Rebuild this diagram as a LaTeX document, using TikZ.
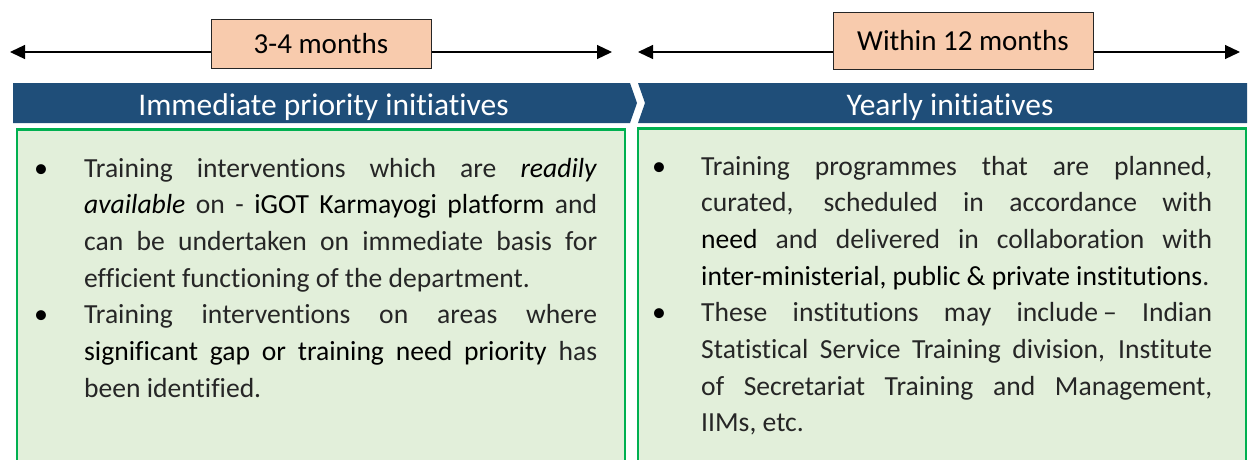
\documentclass[tikz,border=0pt]{standalone}
\usepackage{fontspec}
\setmainfont{Carlito}[Ligatures=NoCommon]
\usetikzlibrary{arrows.meta}
\definecolor{barblue}{HTML}{1F4E79}
\definecolor{boxgreen}{HTML}{00B050}
\definecolor{fillgreen}{HTML}{E2EFDA}
\definecolor{peach}{HTML}{F8CBAD}
\definecolor{textgray}{HTML}{262626}
\newcommand{\dk}[1]{{\color{black}#1}}
\newcommand{\nohyph}{\hyphenpenalty=10000\relax\exhyphenpenalty=10000\relax}
\begin{document}
\begin{tikzpicture}[x=1pt,y=-1pt,
  timebox/.style={draw=black!85, fill=peach, line width=1pt, inner sep=0pt,
    font=\fontsize{29}{34}\selectfont, text=black},
  timearrow/.style={line width=1.2pt, -{Triangle[length=15pt,width=14pt]}},
  bar/.style={fill=barblue},
  heading/.style={text=white, inner sep=0pt, anchor=base, font=\fontsize{31.5}{36}\selectfont},
  panel/.style={draw=boxgreen, fill=fillgreen, line width=2.3pt},
  item/.style={anchor=base west, inner sep=0pt, text=textgray, align=justify,
    font=\fontsize{27.6}{36.7}\selectfont\nohyph},
  bul/.style={anchor=base, inner sep=0pt, text=black, font=\fontsize{28}{36.7}\selectfont}
]
\clip (0,0) rectangle (1250,459);
\fill[white] (0,0) rectangle (1250,459);

% time boxes and arrows
\node[timebox, minimum width=220pt, minimum height=49pt] (lbox) at (321,43.5) {3-4 months};
\node[timebox, minimum width=260pt, minimum height=57pt] (rbox) at (963,40.5) {Within 12 months};
\coordinate (la1) at (10,52);
\coordinate (la2) at (612,52);
\coordinate (ra1) at (638,52);
\coordinate (ra2) at (1240,52);
\draw[timearrow] (lbox.west |- la1) -- (la1);
\draw[timearrow] (lbox.east |- la2) -- (la2);
\draw[timearrow] (rbox.west |- ra1) -- (ra1);
\draw[timearrow] (rbox.east |- ra2) -- (ra2);

% heading bars
\fill[bar] (13,83) -- (630,83) -- (637,103) -- (630,123) -- (13,123) -- cycle;
\fill[bar] (638,83) -- (1247,83) -- (1247,123) -- (638,123) -- (645,103) -- cycle;
\node[heading] (lhead) at (323.5,115) {Immediate priority initiatives};
\node[heading] (rhead) at (950,115) {Yearly initiatives};

% panels
\draw[panel] (17,129.5) rectangle (625,480);
\draw[panel] (638,128.5) rectangle (1246,480);

% left column
\node[bul] (lb1) at (41,177) {\textbullet};
\node[item, text width=513pt] (l1) at (84,177) {Training interventions which are \dk{\textit{readily}}\linebreak
\dk{\textit{available}} on - \dk{iGOT Karmayogi platform} and\linebreak
can be undertaken on immediate basis for\linebreak
efficient functioning of the department.};
\node[bul] (lb2) at (41,323.8) {\textbullet};
\node[item, text width=513pt] (l2) at (84,323.8) {Training interventions on areas where\linebreak
\dk{significant gap or training need priority} has\linebreak
been identified.};

% right column
\node[bul] (rb1) at (659,175) {\textbullet};
\node[item, text width=511pt] (r1) at (701,175) {Training programmes that are planned,\linebreak
curated, scheduled in accordance with\linebreak
\dk{need} and delivered in collaboration with\linebreak
{\fontsize{27.6}{36.7}\selectfont\dk{inter-ministerial, public \& private institutions}.}};
\node[bul] (rb2) at (659,321.8) {\textbullet};
\node[item, text width=511pt] (r2) at (701,321.8) {These institutions may include\hspace{5pt}– Indian\linebreak
Statistical Service Training division, Institute\linebreak
of Secretariat Training and Management,\linebreak
IIMs, etc.};
\end{tikzpicture}
\end{document}
